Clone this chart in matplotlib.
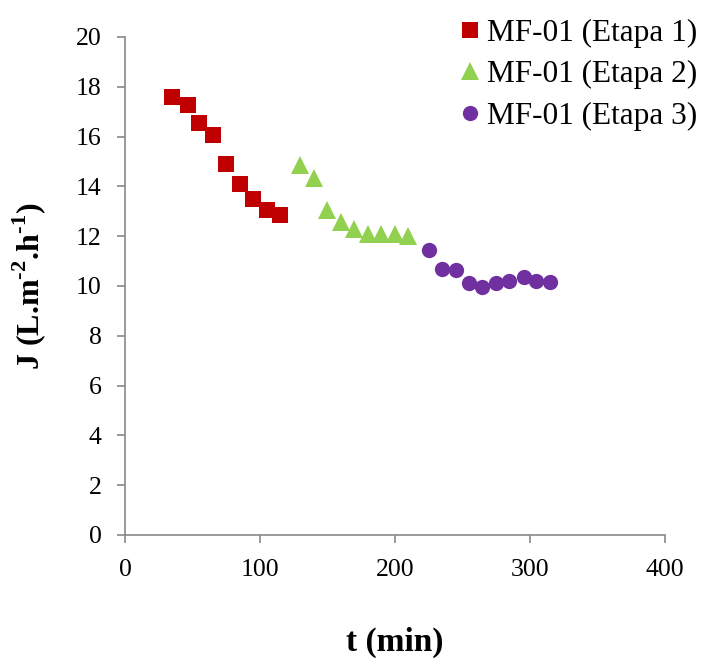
import matplotlib
matplotlib.use("Agg")
import matplotlib.pyplot as plt

# Permeate flux over time for the three filtration stages
t_stage1 = [35, 47, 55, 65, 75, 85, 95, 105, 115]
j_stage1 = [17.6, 17.25, 16.55, 16.05, 14.9, 14.1, 13.5, 13.05, 12.85]

t_stage2 = [130, 140, 150, 160, 170, 180, 190, 200, 210]
j_stage2 = [14.85, 14.35, 13.05, 12.55, 12.3, 12.1, 12.1, 12.1, 12.0]

t_stage3 = [225, 235, 245, 255, 265, 275, 285, 296, 305, 315]
j_stage3 = [11.45, 10.7, 10.65, 10.1, 9.95, 10.1, 10.2, 10.35, 10.2, 10.15]

labels = ["MF-01 (Etapa 1)", "MF-01 (Etapa 2)", "MF-01 (Etapa 3)"]
x_ticks = [0, 100, 200, 300, 400]
y_ticks = [0, 2, 4, 6, 8, 10, 12, 14, 16, 18, 20]

plt.rcParams["font.family"] = ["Liberation Serif", "DejaVu Serif"]
plt.rcParams["mathtext.fontset"] = "custom"
plt.rcParams["mathtext.rm"] = "Liberation Serif"
plt.rcParams["mathtext.bf"] = "Liberation Serif:bold"

fig = plt.figure(figsize=(7.04, 6.59), dpi=100)
ax = fig.add_axes([0.1776, 0.1882, 0.944 - 0.1776, 0.9439 - 0.1882])

ax.plot(t_stage1, j_stage1, linestyle="none", marker="s", markersize=11.5,
        color="#C00000", markeredgewidth=0, label=labels[0])
ax.plot(t_stage2, j_stage2, linestyle="none", marker="^", markersize=13,
        color="#92D050", markeredgewidth=0, label=labels[1])
ax.plot(t_stage3, j_stage3, linestyle="none", marker="o", markersize=11,
        color="#7030A0", markeredgewidth=0, label=labels[2])

ax.set_xlim(0, 400)
ax.set_ylim(0, 20)
ax.set_xticks(x_ticks)
ax.set_yticks(y_ticks)

for side in ("top", "right"):
    ax.spines[side].set_visible(False)
for side in ("left", "bottom"):
    ax.spines[side].set_color("#898989")
    ax.spines[side].set_linewidth(1.2)

ax.tick_params(axis="both", direction="out", length=6, width=1.2,
               color="#898989", labelsize=18.5, labelcolor="black")
ax.tick_params(axis="x", pad=11)
ax.tick_params(axis="y", pad=11)

ax.set_xlabel("t (min)", fontsize=24, fontweight="bold", labelpad=33)
ax.set_ylabel(r"J (L.m$^{\mathbf{\text{-}2}}$.h$^{\mathbf{\text{-}1}}$)",
              fontsize=23, fontweight="bold", labelpad=20)

ax.legend(loc="upper left", bbox_to_anchor=(0.6565, 0.972),
          bbox_transform=fig.transFigure, frameon=False, fontsize=22.5,
          handlelength=0.5, handletextpad=0.3, labelspacing=0.4,
          borderaxespad=0.0, borderpad=0.0, markerscale=1.0)

fig.savefig("out.png", dpi=100)
